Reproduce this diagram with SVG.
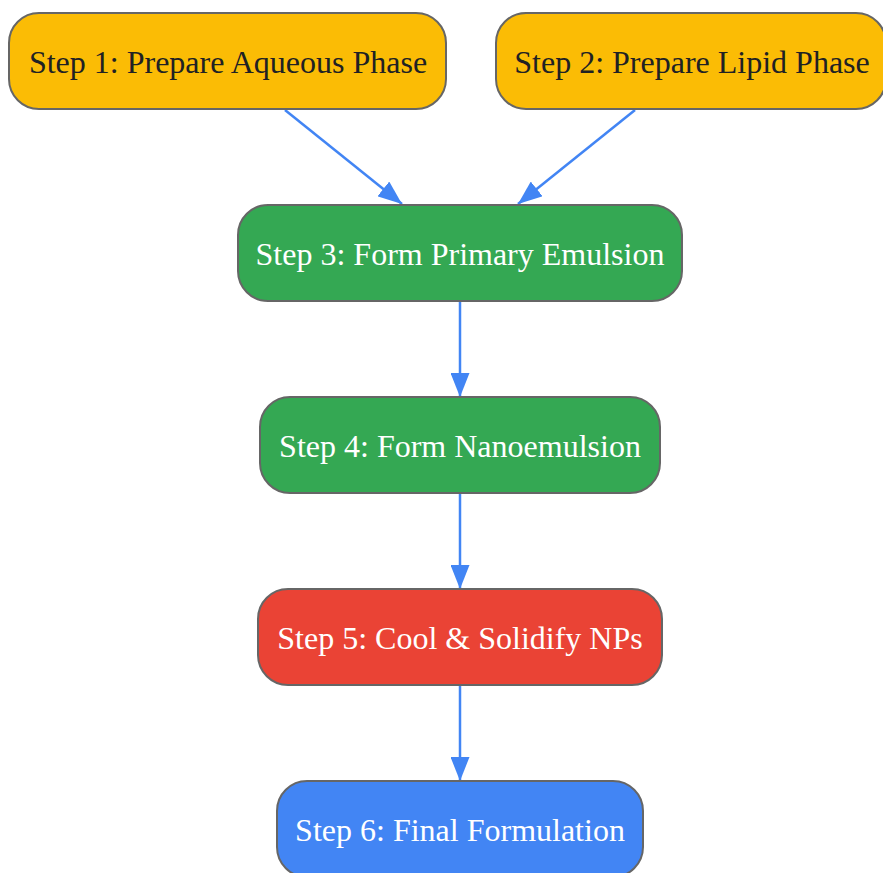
<svg xmlns="http://www.w3.org/2000/svg" width="883" height="873" viewBox="0 0 883 873">
<style>
.n rect{stroke:#666666;stroke-width:2}
.n text{font-family:"Liberation Serif","Times New Roman",serif;font-size:32px;text-anchor:middle}
.y rect{fill:#FBBC05}.y text{fill:#202124}
.g rect{fill:#34A853}.r rect{fill:#EA4335}.b rect{fill:#4285F4}
.g text,.r text,.b text{fill:#ffffff}
.e line{stroke:#4285F4;stroke-width:2.5;fill:none}
</style>
<defs>
<marker id="ah" markerWidth="24" markerHeight="19" refX="24" refY="9.5" orient="auto" markerUnits="userSpaceOnUse">
<path d="M0,0 L24,9.5 L0,19 Z" fill="#4285F4"/>
</marker>
</defs>
<g id="edges" class="e">
<line x1="285" y1="110" x2="402" y2="204" marker-end="url(#ah)"/>
<line x1="635" y1="110" x2="518" y2="204" marker-end="url(#ah)"/>
<line x1="460" y1="302" x2="460" y2="397" marker-end="url(#ah)"/>
<line x1="460" y1="494" x2="460" y2="589" marker-end="url(#ah)"/>
<line x1="460" y1="686" x2="460" y2="781" marker-end="url(#ah)"/>
</g>
<g id="step1" class="n y"><rect x="9" y="13" width="437" height="96" rx="30"/><text x="228" y="73">Step 1: Prepare Aqueous Phase</text></g>
<g id="step2" class="n y"><rect x="496" y="13" width="390" height="96" rx="30"/><text x="692" y="73">Step 2: Prepare Lipid Phase</text></g>
<g id="step3" class="n g"><rect x="238" y="205" width="444" height="96" rx="30"/><text x="460" y="265">Step 3: Form Primary Emulsion</text></g>
<g id="step4" class="n g"><rect x="260" y="397" width="400" height="96" rx="30"/><text x="460" y="457">Step 4: Form Nanoemulsion</text></g>
<g id="step5" class="n r"><rect x="258" y="589" width="404" height="96" rx="30"/><text x="460" y="649">Step 5: Cool &amp; Solidify NPs</text></g>
<g id="step6" class="n b"><rect x="277" y="781" width="366" height="96" rx="30"/><text x="460" y="841">Step 6: Final Formulation</text></g>
</svg>
